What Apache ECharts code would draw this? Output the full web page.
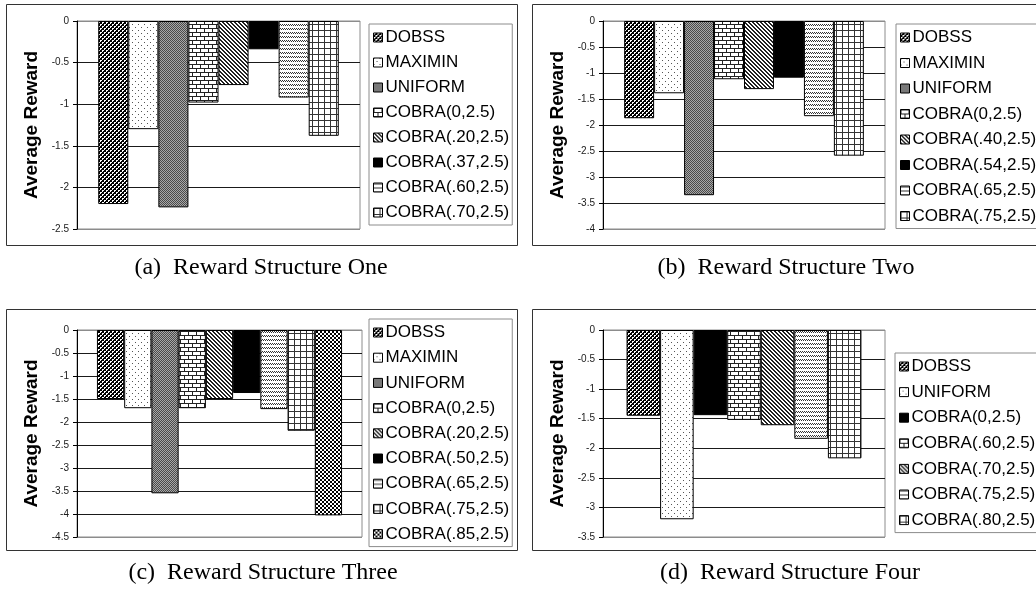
<!DOCTYPE html>
<html><head><meta charset="utf-8">
<script src="https://cdn.jsdelivr.net/npm/echarts@6/dist/echarts.min.js"></script>
<style>
html,body{margin:0;padding:0;background:#fff;width:1036px;height:606px;overflow:hidden;}
.c{position:absolute;width:518px;height:303px;}
</style></head><body>
<div id="ca" class="c" style="left:0;top:0;"></div>
<div id="cb" class="c" style="left:518px;top:0;"></div>
<div id="cc" class="c" style="left:0;top:303px;"></div>
<div id="cd" class="c" style="left:518px;top:303px;"></div>
<script>
// ---- data ----
const namesA = ['DOBSS','MAXIMIN','UNIFORM','COBRA(0,2.5)','COBRA(.20,2.5)','COBRA(.37,2.5)','COBRA(.60,2.5)','COBRA(.70,2.5)'];
const valuesA = [-2.2,-1.3,-2.24,-0.98,-0.77,-0.34,-0.92,-1.38];
const namesB = ['DOBSS','MAXIMIN','UNIFORM','COBRA(0,2.5)','COBRA(.40,2.5)','COBRA(.54,2.5)','COBRA(.65,2.5)','COBRA(.75,2.5)'];
const valuesB = [-1.87,-1.39,-3.35,-1.12,-1.31,-1.09,-1.83,-2.59];
const namesC = ['DOBSS','MAXIMIN','UNIFORM','COBRA(0,2.5)','COBRA(.20,2.5)','COBRA(.50,2.5)','COBRA(.65,2.5)','COBRA(.75,2.5)','COBRA(.85,2.5)'];
const valuesC = [-1.5,-1.7,-3.55,-1.7,-1.5,-1.37,-1.72,-2.19,-4.03];
const namesD = ['DOBSS','UNIFORM','COBRA(0,2.5)','COBRA(.60,2.5)','COBRA(.70,2.5)','COBRA(.75,2.5)','COBRA(.80,2.5)'];
const valuesD = [-1.45,-3.2,-1.44,-1.52,-1.61,-1.84,-2.17];
const yMinA = -2.5, yMinB = -4, yMinC = -4.5, yMinD = -3.5;
const yStep = 0.5;
const yAxisTitle = 'Average Reward';
const captionA = '(a)  Reward Structure One';
const captionB = '(b)  Reward Structure Two';
const captionC = '(c)  Reward Structure Three';
const captionD = '(d)  Reward Structure Four';
const fillsA = ['dobss','dots','gray','brick','diag','black','wave','grid'];
const fillsB = ['dobss','dots','gray','brick','diag','black','wave','grid'];
const fillsC = ['dobss','dots','gray','brick','diag','black','wave','grid','checker'];
const fillsD = ['dobss','dots','black','brick','diag','wave','grid'];

// ---- patterns ----
function tile(w,h,bg,fg,pts){
  const c=document.createElement('canvas');c.width=w;c.height=h;
  const g=c.getContext('2d');g.fillStyle=bg;g.fillRect(0,0,w,h);g.fillStyle=fg;
  pts.forEach(p=>g.fillRect(p[0],p[1],p[2]||1,p[3]||1));
  return {image:c,repeat:'repeat'};
}
const patterns={
  dobss: tile(4,4,'#000','#fff',[[0,0],[1,0],[0,1],[2,2],[3,2],[2,3]]),
  dots: tile(6,6,'#fff','#555',[[0,0],[3,3]]),
  gray: tile(2,2,'#a8a8a8','#4a4a4a',[[0,0],[1,1]]),
  brick: tile(8,8,'#fff','#222',[[0,0,8,1],[0,4,8,1],[0,1,1,3],[4,5,1,3]]),
  diag: tile(4,4,'#fff','#222',[[0,0],[1,1],[2,2],[3,3],[1,0],[2,1],[3,2],[0,3]]),
  black: '#000',
  wave: tile(4,4,'#fff','#333',[[0,0],[1,1],[2,0],[3,1]]),
  grid: tile(6,6,'#fff','#333',[[0,0,6,1],[0,0,1,6]]),
  checker: tile(4,4,'#fff','#000',[[0,0,2,2],[2,2,2,2]])
};

function build(el, names, values, fills, yMin, caption, L){
  const chart = echarts.init(document.getElementById(el), null, {renderer:'canvas'});
  const nLines = Math.round(-yMin/yStep)+1;
  const splitColors = [];
  for(let i=0;i<nLines;i++) splitColors.push((i===0||i===nLines-1)?'#8c8c8c':'#1a1a1a');
  const series = names.map((n,i)=>({
    name:n, type:'bar', data:[values[i]],
    barGap:'0%', barCategoryGap:L.gap,
    itemStyle:{color:patterns[fills[i]], borderColor:'#000', borderWidth:1},
    emphasis:{disabled:true}, silent:true, animation:false
  }));
  chart.setOption({
    animation:false,
    grid:{left:L.gl, top:L.gt, width:L.gw, height:L.gh, show:true, borderColor:'#8c8c8c', borderWidth:1, backgroundColor:'#fff'},
    xAxis:{type:'category', data:[''], axisLine:{show:false}, axisTick:{show:false}, axisLabel:{show:false}},
    yAxis:{type:'value', min:yMin, max:0, interval:yStep,
      name:yAxisTitle, nameLocation:'middle', nameGap:33, nameRotate:90,
      nameTextStyle:{fontFamily:'Liberation Sans', fontWeight:'bold', fontSize:19, color:'#000'},
      axisLine:{show:true, lineStyle:{color:'#000', width:1}},
      axisTick:{show:true, length:4, lineStyle:{color:'#000'}},
      axisLabel:{fontFamily:'Liberation Sans', fontSize:10, color:'#1a1a1a', margin:8},
      splitLine:{show:true, lineStyle:{color:splitColors, width:1}}
    },
    legend:{orient:'vertical', left:L.ll, top:L.lt, data:names, selectedMode:false,
      icon:'rect', itemWidth:9, itemHeight:9, itemGap:L.lg,
      padding:[5,3,4,4], borderColor:'#8c8c8c', borderWidth:1, backgroundColor:'#fff',
      textStyle:{fontFamily:'Liberation Sans', fontSize:17, color:'#000', padding:[0,0,0,-2]},
      itemStyle:{borderColor:'#000', borderWidth:1}
    },
    graphic:[
      {type:'rect', shape:{x:L.bx+0.5, y:L.by+0.5, width:L.bw, height:L.bh}, style:{fill:'none', stroke:'#333', lineWidth:1}, silent:true, z:-1},
      {type:'text', x:L.cx, y:L.cy, style:{text:caption, fontFamily:'Liberation Serif', fontSize:24, fill:'#000', align:'center', verticalAlign:'middle'}, silent:true}
    ],
    series:series
  });
}
build('ca', namesA, valuesA, fillsA, yMinA, captionA,
  {gl:77, gt:21, gw:283, gh:208, gap:'15%', ll:369, lt:24, lg:8, bx:6, by:4, bw:511, bh:241, cx:261, cy:268});
build('cb', namesB, valuesB, fillsB, yMinB, captionB,
  {gl:85, gt:21, gw:282, gh:208, gap:'15%', ll:378, lt:24, lg:8.5, bx:14, by:4, bw:600, bh:241, cx:268, cy:268});
build('cc', namesC, valuesC, fillsC, yMinC, captionC,
  {gl:77, gt:27, gw:285, gh:207, gap:'14%', ll:369, lt:16, lg:8.2, bx:6, by:6, bw:511, bh:241, cx:263, cy:270});
build('cd', namesD, valuesD, fillsD, yMinD, captionD,
  {gl:85, gt:27, gw:282, gh:207, gap:'16.7%', ll:377, lt:50, lg:8.6, bx:14, by:6, bw:600, bh:241, cx:272, cy:270});
</script>
</body></html>
